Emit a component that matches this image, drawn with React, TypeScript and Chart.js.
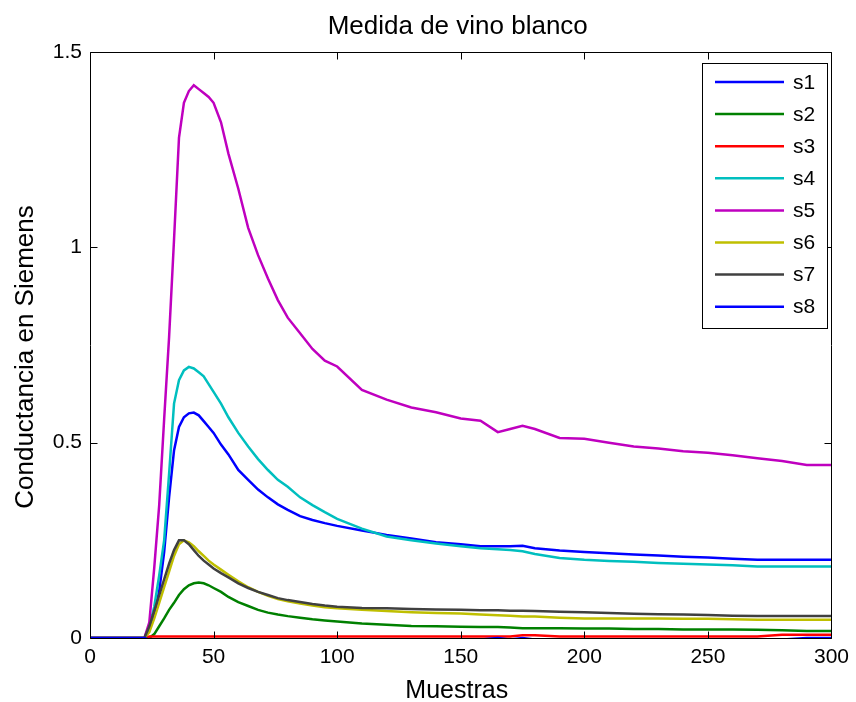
import React, { useEffect, useRef } from "react";
import { Chart, registerables } from "chart.js";

Chart.register(...registerables);

const TITLE = "Medida de vino blanco";
const X_LABEL = "Muestras";
const Y_LABEL = "Conductancia en Siemens";

const SERIES_NAMES = ["s1", "s2", "s3", "s4", "s5", "s6", "s7", "s8"];
const SERIES_COLORS = ["#0000FF", "#008000", "#FF0000", "#00BFBF", "#BF00BF", "#BFBF00", "#404040", "#0000FF"];

const X_TICKS = [0, 50, 100, 150, 200, 250, 300];
const Y_TICKS = [0, 0.5, 1, 1.5];

const SAMPLES = [0, 22, 24, 26, 28, 30, 32, 34, 36, 38, 40, 42, 44, 46, 48, 50, 53, 56, 60, 64, 68, 72, 76, 80, 85, 90, 95, 100, 110, 120, 130, 140, 150, 158, 165, 170, 175, 180, 190, 200, 210, 220, 230, 240, 250, 260, 270, 280, 290, 300];

const S1 = [0, 0, 0.02, 0.06, 0.12, 0.22, 0.36, 0.48, 0.54, 0.565, 0.575, 0.577, 0.57, 0.555, 0.54, 0.525, 0.495, 0.47, 0.43, 0.405, 0.38, 0.36, 0.342, 0.328, 0.312, 0.302, 0.294, 0.287, 0.275, 0.264, 0.255, 0.245, 0.24, 0.235, 0.235, 0.235, 0.236, 0.23, 0.224, 0.22, 0.217, 0.214, 0.211, 0.208, 0.206, 0.203, 0.2, 0.2, 0.2, 0.2];
const S2 = [0, 0, 0, 0.01, 0.03, 0.05, 0.072, 0.09, 0.11, 0.125, 0.135, 0.14, 0.142, 0.14, 0.135, 0.128, 0.118, 0.105, 0.092, 0.082, 0.072, 0.065, 0.06, 0.056, 0.052, 0.048, 0.045, 0.042, 0.037, 0.034, 0.031, 0.03, 0.029, 0.028, 0.028, 0.027, 0.025, 0.025, 0.025, 0.024, 0.024, 0.023, 0.023, 0.022, 0.022, 0.022, 0.021, 0.02, 0.018, 0.018];
const S3 = [0, 0, 0.004, 0.004, 0.004, 0.004, 0.004, 0.004, 0.004, 0.004, 0.004, 0.004, 0.004, 0.004, 0.004, 0.004, 0.004, 0.004, 0.004, 0.004, 0.004, 0.004, 0.004, 0.004, 0.004, 0.004, 0.004, 0.004, 0.004, 0.004, 0.004, 0.004, 0.004, 0.004, 0.004, 0.004, 0.007, 0.007, 0.004, 0.004, 0.004, 0.004, 0.004, 0.004, 0.004, 0.004, 0.004, 0.008, 0.008, 0.008];
const S4 = [0, 0, 0.03, 0.08, 0.16, 0.25, 0.42, 0.6, 0.66, 0.685, 0.694, 0.69, 0.68, 0.67, 0.65, 0.63, 0.6, 0.565, 0.525, 0.49, 0.458, 0.43, 0.405, 0.387, 0.36, 0.34, 0.322, 0.305, 0.28, 0.26, 0.25, 0.242, 0.235, 0.23, 0.227, 0.225, 0.222, 0.215, 0.205, 0.2, 0.197, 0.195, 0.192, 0.19, 0.188, 0.186, 0.183, 0.183, 0.183, 0.183];
const S5 = [0, 0, 0.04, 0.18, 0.34, 0.56, 0.77, 1.02, 1.28, 1.37, 1.4, 1.415, 1.405, 1.395, 1.385, 1.37, 1.32, 1.24, 1.15, 1.05, 0.98, 0.92, 0.865, 0.82, 0.78, 0.74, 0.71, 0.695, 0.635, 0.61, 0.59, 0.578, 0.562, 0.556, 0.527, 0.535, 0.543, 0.535, 0.512, 0.51, 0.5, 0.49, 0.485, 0.478, 0.474, 0.468, 0.46, 0.453, 0.443, 0.443];
const S6 = [0, 0, 0.015, 0.05, 0.09, 0.13, 0.17, 0.21, 0.24, 0.25, 0.245, 0.235, 0.222, 0.21, 0.198, 0.188, 0.175, 0.162, 0.145, 0.13, 0.118, 0.108, 0.1, 0.094, 0.088, 0.083, 0.079, 0.076, 0.072, 0.069, 0.066, 0.064, 0.063, 0.06, 0.058, 0.057, 0.055, 0.055, 0.052, 0.05, 0.05, 0.05, 0.05, 0.049, 0.049, 0.048, 0.047, 0.047, 0.047, 0.047];
const S7 = [0, 0, 0.03, 0.07, 0.11, 0.15, 0.19, 0.225, 0.25, 0.25, 0.24, 0.225, 0.21, 0.198, 0.188, 0.178, 0.166, 0.155, 0.14, 0.128, 0.118, 0.11, 0.102, 0.097, 0.092, 0.087, 0.083, 0.08, 0.077, 0.076, 0.074, 0.073, 0.072, 0.071, 0.071, 0.07, 0.07, 0.069, 0.067, 0.066, 0.064, 0.062, 0.061, 0.06, 0.059, 0.057, 0.056, 0.056, 0.056, 0.056];
const S8 = [0, 0, -0.004, -0.004, -0.004, -0.004, -0.004, -0.004, -0.004, -0.004, -0.004, -0.004, -0.004, -0.004, -0.004, -0.004, -0.004, -0.004, -0.004, -0.004, -0.004, -0.004, -0.004, -0.004, -0.004, -0.004, -0.004, -0.004, -0.004, -0.004, -0.004, -0.004, -0.004, -0.004, 0, -0.004, 0, -0.004, -0.004, -0.004, -0.004, -0.004, -0.004, -0.004, -0.004, -0.004, -0.004, -0.004, 0, 0];

const FONT = "'Liberation Sans', Arial, Helvetica, sans-serif";

const framePlugin = {
  id: "matlabFrame",
  afterDatasetsDraw(chart: any) {
    const ctx = chart.ctx;
    const { left, right, top, bottom } = chart.chartArea;
    const xs = chart.scales.x;
    const ys = chart.scales.y;
    ctx.save();
    ctx.strokeStyle = "#000";
    ctx.lineWidth = 1;
    const L = Math.round(left) + 0.5;
    const R = Math.round(right) + 0.5;
    const T = Math.round(top) + 0.5;
    const B = Math.round(bottom) + 0.5;
    ctx.beginPath();
    ctx.rect(L, T, R - L, B - T);
    ctx.stroke();
    const tl = 7;
    ctx.beginPath();
    X_TICKS.forEach((v) => {
      const px = Math.round(xs.getPixelForValue(v)) + 0.5;
      ctx.moveTo(px, B);
      ctx.lineTo(px, B - tl);
      ctx.moveTo(px, T);
      ctx.lineTo(px, T + tl);
    });
    Y_TICKS.forEach((v) => {
      const py = Math.round(ys.getPixelForValue(v)) + 0.5;
      ctx.moveTo(L, py);
      ctx.lineTo(L + tl, py);
      ctx.moveTo(R, py);
      ctx.lineTo(R - tl, py);
    });
    ctx.stroke();

    // Legend box
    const lx = 702.5, ly = 63.5, lw = 125, lh = 265;
    ctx.fillStyle = "#fff";
    ctx.fillRect(lx, ly, lw, lh);
    ctx.strokeRect(lx, ly, lw, lh);
    ctx.font = `21px ${FONT}`;
    ctx.textAlign = "left";
    ctx.textBaseline = "middle";
    chart.data.datasets.forEach((ds: any, i: number) => {
      const y = 82 + 32.1 * i;
      ctx.strokeStyle = ds.borderColor;
      ctx.lineWidth = 2.5;
      ctx.beginPath();
      ctx.moveTo(715, y);
      ctx.lineTo(784, y);
      ctx.stroke();
      ctx.fillStyle = "#000";
      ctx.fillText(ds.label, 793, y + 1);
    });

    // Texts
    ctx.fillStyle = "#000";
    ctx.textAlign = "center";
    ctx.textBaseline = "alphabetic";
    ctx.font = `26px ${FONT}`;
    ctx.fillText(TITLE, (left + right) / 2 - 3, 34);
    ctx.font = `25px ${FONT}`;
    ctx.fillText(X_LABEL, (left + right) / 2 - 4, 698);
    ctx.save();
    ctx.translate(33, 357);
    ctx.rotate(-Math.PI / 2);
    ctx.font = `26px ${FONT}`;
    ctx.fillText(Y_LABEL, 0, 0);
    ctx.restore();
    ctx.restore();
  },
};

export default function App() {
  const ref = useRef<HTMLCanvasElement>(null);
  useEffect(() => {
    document.body.style.margin = "0";
    const series = [S1, S2, S3, S4, S5, S6, S7, S8];
    const chart = new Chart(ref.current as HTMLCanvasElement, {
      type: "line",
      data: {
        datasets: series.map((s, i) => ({
          label: SERIES_NAMES[i],
          data: SAMPLES.map((x, j) => ({ x, y: s[j] })),
          borderColor: SERIES_COLORS[i],
          backgroundColor: SERIES_COLORS[i],
          borderWidth: 2.5,
          pointRadius: 0,
          fill: false,
          tension: 0,
          order: 7 - i,
        })),
      },
      options: {
        responsive: false,
        animation: false,
        events: [],
        layout: { padding: { left: 0, right: 20, top: 52, bottom: 0 } },
        plugins: {
          legend: { display: false },
          title: { display: false },
          tooltip: { enabled: false },
        },
        scales: {
          x: {
            type: "linear",
            min: 0,
            max: 300,
            afterFit: (s: any) => {
              s.height = 64;
            },
            afterBuildTicks: (s: any) => {
              s.ticks = X_TICKS.map((v) => ({ value: v }));
            },
            grid: { display: false, drawTicks: false },
            border: { display: false },
            ticks: {
              padding: 7,
              color: "#000",
              font: { family: FONT, size: 21 },
              maxRotation: 0,
              autoSkip: false,
            },
          },
          y: {
            type: "linear",
            min: 0,
            max: 1.5,
            afterFit: (s: any) => {
              s.width = 90;
            },
            afterBuildTicks: (s: any) => {
              s.ticks = Y_TICKS.map((v) => ({ value: v }));
            },
            grid: { display: false, drawTicks: false },
            border: { display: false },
            ticks: {
              padding: 8,
              color: "#000",
              font: { family: FONT, size: 21 },
              autoSkip: false,
              callback: (v: any) => String(v),
            },
          },
        },
      } as any,
      plugins: [framePlugin],
    });
    return () => chart.destroy();
  }, []);
  return <canvas ref={ref} width={856} height={702} style={{ display: "block" }} />;
}
